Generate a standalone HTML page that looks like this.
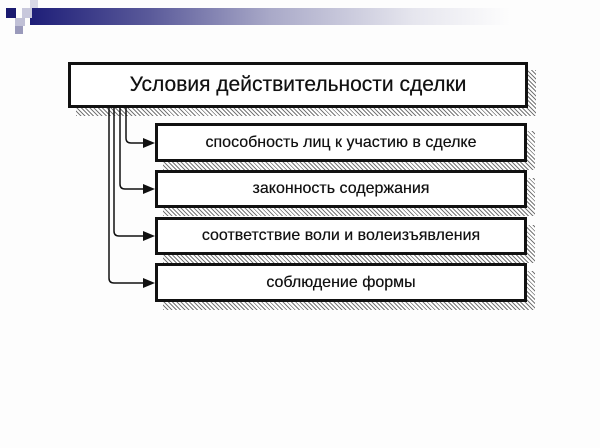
<!DOCTYPE html>
<html><head><meta charset="utf-8"><style>
body{margin:0;width:600px;height:448px;background:#fdfdfd;position:relative;overflow:hidden;font-family:"Liberation Sans",sans-serif}
.bar{position:absolute;left:30px;top:8px;width:480px;height:17px;background:linear-gradient(90deg,#1e1e78 0%,#5a5a9a 25%,#a9a9c8 50%,#e6e6ee 80%,#fdfdfd 100%)}
.sq{position:absolute}
.sh{position:absolute;background:repeating-linear-gradient(45deg,#777 0 1px,#fff 1px 3px)}
.box{position:absolute;background:#fff;border:3px solid #111;box-sizing:border-box;display:flex;align-items:center;justify-content:center;color:#111;text-shadow:0 0 0.4px #111}
</style></head><body>
<div class="bar"></div>
<div class="sq" style="left:6px;top:8px;width:10px;height:10px;background:#1a1a70"></div>
<div class="sq" style="left:22px;top:8px;width:10px;height:10px;background:#c8c8dc"></div>
<div class="sq" style="left:30px;top:0px;width:8px;height:8px;background:#d8d8e6"></div>
<div class="sq" style="left:15px;top:18px;width:10px;height:8px;background:#c0c0d6"></div>
<div class="sq" style="left:15px;top:26px;width:8px;height:8px;background:#9a9abb"></div>

<div class="sh" style="left:76px;top:70px;width:460px;height:46px"></div>
<div class="box" style="left:68px;top:62px;width:460px;height:46px;font-size:21px">Условия действительности сделки</div>

<div class="sh" style="left:163px;top:131px;width:372px;height:39px"></div>
<div class="box" style="left:155px;top:123px;width:372px;height:39px;font-size:16px">способность лиц к участию в сделке</div>
<div class="sh" style="left:163px;top:178px;width:372px;height:38px"></div>
<div class="box" style="left:155px;top:170px;width:372px;height:38px;font-size:16px">законность содержания</div>
<div class="sh" style="left:163px;top:225px;width:372px;height:38px"></div>
<div class="box" style="left:155px;top:217px;width:372px;height:38px;font-size:16px">соответствие воли и волеизъявления</div>
<div class="sh" style="left:163px;top:271px;width:372px;height:39px"></div>
<div class="box" style="left:155px;top:263px;width:372px;height:39px;font-size:16px">соблюдение формы</div>

<svg style="position:absolute;left:0;top:0" width="600" height="448">
<g fill="none" stroke="#111" stroke-width="1.5">
<path d="M126 108 V138 Q126 143 131 143 H145"/>
<path d="M120 108 V184 Q120 189 125 189 H145"/>
<path d="M114 108 V231 Q114 236 119 236 H145"/>
<path d="M109 108 V278 Q109 283 114 283 H145"/>
</g>
<g fill="#111">
<polygon points="143,138 155,143 143,148"/>
<polygon points="143,184 155,189 143,194"/>
<polygon points="143,231 155,236 143,241"/>
<polygon points="143,278 155,283 143,288"/>
</g>
</svg>
</body></html>
